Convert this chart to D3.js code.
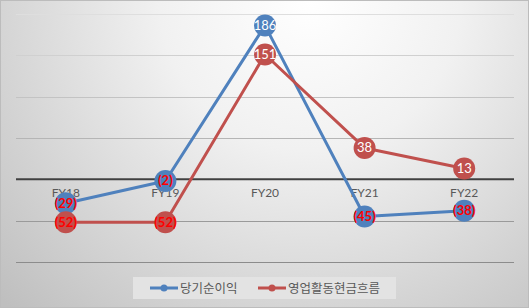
<!DOCTYPE html>
<html><head><meta charset="utf-8">
<script src="https://cdn.jsdelivr.net/npm/d3@7"></script>
<style>html,body{margin:0;padding:0;background:#fff}svg{display:block}</style>
</head><body>
<svg id="c" width="529" height="308"></svg>
<script>
const categories = ["FY18","FY19","FY20","FY21","FY22"];
const netIncome = [-29, -2, 186, -45, -38];
const opCashFlow = [-52, -52, 151, 38, 13];
const seriesNames = ["당기순이익","영업활동현금흐름"];
const yTicks = [-100,-50,0,50,100,150,200];

const W=529,H=308;
const svg=d3.select("#c");
const defs=svg.append("defs");
const rg=defs.append("radialGradient").attr("id","bg").attr("gradientUnits","userSpaceOnUse")
 .attr("cx",310).attr("cy",0).attr("r",430).attr("fx",310).attr("fy",0);
rg.append("stop").attr("offset","0%").attr("stop-color","#ffffff");
rg.append("stop").attr("offset","35%").attr("stop-color","#f1f1f1");
rg.append("stop").attr("offset","100%").attr("stop-color","#bfbfbf");
svg.append("rect").attr("x",0.5).attr("y",0.5).attr("width",W-1).attr("height",H-1)
 .attr("fill","url(#bg)").attr("stroke","#bcbcbc");

const x=d3.scaleBand().domain(categories).range([16,514]);
const y=d3.scaleLinear().domain([-100,200]).range([262,14]);
const gridCol=d3.scaleLinear().domain([14,262]).range(["#dedede","#8c8c8c"]);

svg.append("g").selectAll("line").data(yTicks.filter(t=>t!==0)).join("line")
 .attr("x1",16).attr("x2",514).attr("y1",d=>Math.round(y(d))+0.5).attr("y2",d=>Math.round(y(d))+0.5)
 .attr("stroke",d=>gridCol(y(d))).attr("stroke-width",1);

svg.append("line").attr("x1",16).attr("x2",514).attr("y1",y(0)).attr("y2",y(0))
 .attr("stroke","#404040").attr("stroke-width",2);

// category labels
svg.append("g").selectAll("text").data(categories).join("text")
 .attr("x",d=>x(d)+x.bandwidth()/2).attr("y",y(0)+18)
 .attr("text-anchor","middle").attr("fill","#595959")
 .attr("font-family","Lato, 'Liberation Sans', sans-serif").attr("font-size",12).text(d=>d);

const series=[{vals:netIncome,color:"#4F81BD"},{vals:opCashFlow,color:"#C0504D"}];
const line=d3.line().x((d,i)=>x(categories[i])+x.bandwidth()/2).y(d=>y(d));
series.forEach(s=>{
  svg.append("path").attr("d",line(s.vals)).attr("fill","none").attr("stroke",s.color)
   .attr("stroke-width",3).attr("stroke-linejoin","round");
});
series.forEach(s=>{
  const g=svg.append("g");
  s.vals.forEach((v,i)=>{
    const cx=x(categories[i])+x.bandwidth()/2, cy=y(v);
    g.append("circle").attr("cx",cx).attr("cy",cy).attr("r",11).attr("fill",s.color);
    g.append("text").attr("x",cx).attr("y",cy+4.5).attr("text-anchor","middle")
     .attr("font-family","Lato, 'Liberation Sans', sans-serif").attr("font-size",13)
     .attr("font-weight",v<0?"bold":"normal")
     .attr("fill",v<0?"#FF0000":"#ffffff")
     .text(v<0?"("+Math.abs(v)+")":v);
  });
});

// legend
const lg=svg.append("g");
lg.append("rect").attr("x",133).attr("y",277).attr("width",263).attr("height",22).attr("fill","#e3e3e3");
const items=[{x:150,tx:180},{x:258,tx:288}];
items.forEach((it,i)=>{
  const c=series[i].color;
  lg.append("line").attr("x1",it.x).attr("x2",it.x+28).attr("y1",288).attr("y2",288).attr("stroke",c).attr("stroke-width",3);
  lg.append("circle").attr("cx",it.x+14).attr("cy",288).attr("r",3.5).attr("fill",c);
  lg.append("text").attr("x",it.tx).attr("y",292.5).attr("fill","#595959")
   .attr("font-family","'Noto Sans CJK KR', sans-serif").attr("font-size",12.5).text(seriesNames[i]);
});
</script>
</body></html>
